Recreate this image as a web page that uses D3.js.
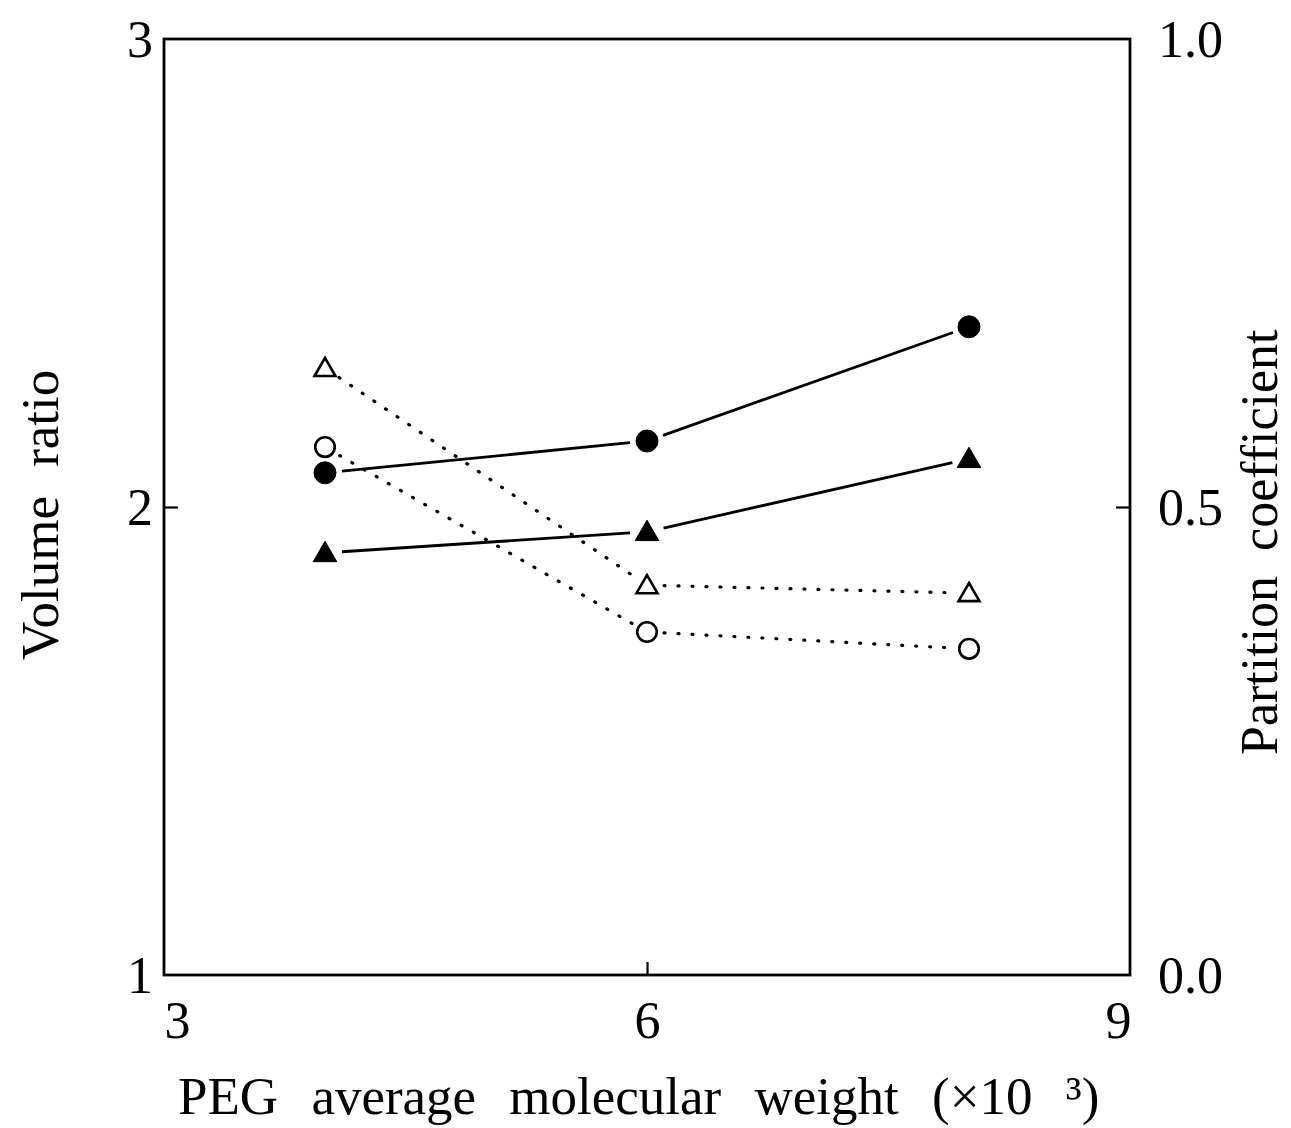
<!DOCTYPE html>
<html><head><meta charset="utf-8">
<script src="https://cdn.jsdelivr.net/npm/d3@7"></script>
<style>body{margin:0;background:#fff}svg{display:block}text{font-family:"Times New Roman","Liberation Serif",Tinos,Times,serif;fill:#000}</style>
</head><body>
<script>
const pegMW = [4, 6, 8];
const filledCircle = [2.073, 2.141, 2.385];
const filledTriangle = [1.902, 1.947, 2.103];
const openTriangle = [2.297, 1.833, 1.816];
const openCircle = [2.128, 1.733, 1.697];
const xTicks = [3, 6, 9];
const yLeftTicks = [1, 2, 3];
const yRightTicks = ["0.0", "0.5", "1.0"];

const FONT = '"Times New Roman","Liberation Serif",Tinos,Times,serif';
const W = 1291, H = 1128;
const L = 164, R = 1130, T = 39, B = 975;
const svg = d3.select("body").append("svg").attr("width", W).attr("height", H);
const x = d3.scaleLinear().domain([3, 9]).range([L, R]);
const y = d3.scaleLinear().domain([1, 3]).range([B, T]);
const y2 = d3.scaleLinear().domain([0, 1]).range([B, T]);

svg.append("rect").attr("x", L).attr("y", T).attr("width", R - L).attr("height", B - T)
  .attr("fill", "none").attr("stroke", "#000").attr("stroke-width", 2.8);

const xAxis = d3.axisBottom(x).tickValues(xTicks).tickSize(-13).tickPadding(26).tickFormat(d3.format("d"));
const gx = svg.append("g").attr("transform", `translate(0,${B})`).call(xAxis);
const yAxis = d3.axisLeft(y).tickValues(yLeftTicks).tickSize(-14).tickPadding(11).tickFormat(d3.format("d"));
const gy = svg.append("g").attr("transform", `translate(${L},0)`).call(yAxis);
const yAxis2 = d3.axisRight(y2).tickValues(yRightTicks.map(Number)).tickSize(-14).tickPadding(28)
  .tickFormat((d, i) => yRightTicks[i]);
const gy2 = svg.append("g").attr("transform", `translate(${R},0)`).call(yAxis2);
[gx, gy, gy2].forEach(g => {
  g.attr("font-family", FONT);
  g.select(".domain").remove();
  g.selectAll(".tick line").attr("stroke", "#000").attr("stroke-width", 2.2);
  g.selectAll("text").style("font-family", FONT).style("font-size", "52px").attr("fill", "#000");
});
gx.selectAll(".tick text").attr("dy", "0.71em").attr("dx", d => d === 3 ? 13 : (d === 9 ? -12 : 0));
gx.selectAll(".tick").filter(d => d !== 6).select("line").remove();
gy.selectAll(".tick").filter(d => d !== 2).select("line").remove();
gy2.selectAll(".tick").filter(d => d !== 0.5).select("line").remove();
gy.selectAll(".tick text").attr("dy", "0.34em");
gy2.selectAll(".tick text").attr("dy", "0.34em");

// axis titles
svg.append("text").attr("x", 178).attr("y", 1114)
  .attr("font-size", 53).style("word-spacing", "20px")
  .text("PEG average molecular weight (×10 ³)");
svg.append("text").attr("transform", "translate(58,660) rotate(-90)")
  .attr("font-size", 53).style("word-spacing", "16px")
  .text("Volume ratio");
svg.append("text").attr("transform", "translate(1277,755) rotate(-90)")
  .attr("font-size", 52).style("word-spacing", "12px")
  .text("Partition coefficient");

const series = [
  {vals: filledCircle, shape: "circle", fill: true},
  {vals: filledTriangle, shape: "triangle", fill: true},
  {vals: openTriangle, shape: "triangle", fill: false},
  {vals: openCircle, shape: "circle", fill: false}
];
const gap = 17;
series.forEach(s => {
  const pts = pegMW.map((m, i) => [x(m), y(s.vals[i])]);
  for (let i = 0; i < pts.length - 1; i++) {
    const [x1, y1] = pts[i], [x2, y2_] = pts[i + 1];
    const dx = x2 - x1, dy = y2_ - y1, len = Math.hypot(dx, dy);
    const ux = dx / len, uy = dy / len;
    svg.append("line").attr("x1", x1 + ux * gap).attr("y1", y1 + uy * gap)
      .attr("x2", x2 - ux * gap).attr("y2", y2_ - uy * gap)
      .attr("stroke", "#000").attr("stroke-width", s.fill ? 2.8 : 3.2)
      .attr("stroke-linecap", s.fill ? "butt" : "round")
      .attr("stroke-dasharray", s.fill ? null : "1,13");
  }
  const sym = d3.symbol().type(s.shape === "circle" ? d3.symbolCircle : d3.symbolTriangle)
    .size(s.shape === "circle" ? (s.fill ? 380 : 300) : (s.fill ? 240 : 190));
  svg.selectAll(null).data(pts).enter().append("path")
    .attr("d", sym)
    .attr("transform", d => `translate(${d[0]},${d[1] + (s.shape === "triangle" ? 2 : 0)})`)
    .attr("fill", s.fill ? "#000" : "#fff")
    .attr("stroke", "#000").attr("stroke-width", s.fill ? 1 : 2.6);
});
</script>
</body></html>
